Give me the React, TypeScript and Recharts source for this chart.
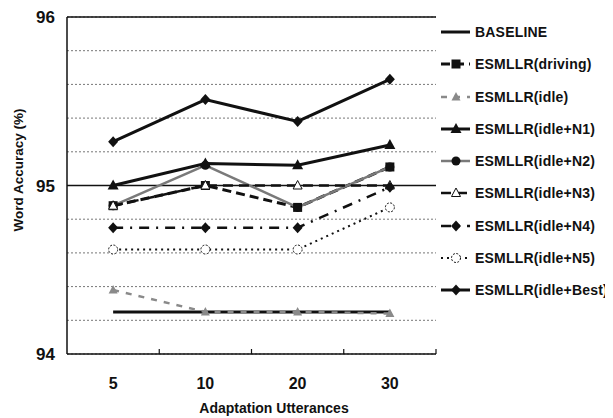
import React from "react"
import { LineChart, Line, XAxis, YAxis, CartesianGrid, Legend, ReferenceLine } from "recharts"

const categories = ["5", "10", "20", "30"]
const baseline = [94.25, 94.25, 94.25, 94.25]
const driving = [94.88, 95.0, 94.87, 95.11]
const idle = [94.38, 94.25, 94.25, 94.24]
const idleN1 = [95.0, 95.13, 95.12, 95.24]
const idleN2 = [94.88, 95.12, 94.87, 95.11]
const idleN3 = [94.88, 95.0, 95.0, 95.0]
const idleN4 = [94.75, 94.75, 94.75, 94.99]
const idleN5 = [94.62, 94.62, 94.62, 94.87]
const idleBest = [95.26, 95.51, 95.38, 95.63]
const yTicks = [94, 94.2, 94.4, 94.6, 94.8, 95, 95.2, 95.4, 95.6, 95.8, 96]

const FONT = "'Liberation Sans', Arial, sans-serif"
const INK = "#111"

type Marker = "none" | "square" | "triangle" | "grayTri" | "circle" | "openTri" | "diamond" | "openCircle"

interface Series {
  key: string
  name: string
  values: number[]
  stroke: string
  width: number
  dash?: string
  marker: Marker
}

const series: Series[] = [
  { key: "baseline", name: "BASELINE", values: baseline, stroke: INK, width: 3, marker: "none" },
  { key: "driving", name: "ESMLLR(driving)", values: driving, stroke: INK, width: 3, dash: "9 5", marker: "square" },
  { key: "idle", name: "ESMLLR(idle)", values: idle, stroke: "#8a8a8a", width: 2.5, dash: "6 7", marker: "grayTri" },
  { key: "n1", name: "ESMLLR(idle+N1)", values: idleN1, stroke: INK, width: 3, marker: "triangle" },
  { key: "n2", name: "ESMLLR(idle+N2)", values: idleN2, stroke: "#7a7a7a", width: 2.5, marker: "circle" },
  { key: "n3", name: "ESMLLR(idle+N3)", values: idleN3, stroke: INK, width: 2.5, dash: "10 6", marker: "openTri" },
  { key: "n4", name: "ESMLLR(idle+N4)", values: idleN4, stroke: INK, width: 2.5, dash: "10 7 2 7", marker: "diamond" },
  { key: "n5", name: "ESMLLR(idle+N5)", values: idleN5, stroke: INK, width: 2, dash: "2 4", marker: "openCircle" },
  { key: "best", name: "ESMLLR(idle+Best)", values: idleBest, stroke: INK, width: 3, marker: "diamond" },
]

const data = categories.map((c, i) => {
  const row: Record<string, string | number> = { x: c }
  series.forEach((s) => (row[s.key] = s.values[i]))
  return row
})

function drawMarker(m: Marker, cx: number, cy: number, key?: string) {
  switch (m) {
    case "square":
      return <rect key={key} x={cx - 4.5} y={cy - 4.5} width={9} height={9} fill={INK} />
    case "triangle":
      return <polygon key={key} points={`${cx},${cy - 6} ${cx + 5.5},${cy + 4} ${cx - 5.5},${cy + 4}`} fill={INK} />
    case "grayTri":
      return <polygon key={key} points={`${cx},${cy - 5} ${cx + 4.5},${cy + 3.5} ${cx - 4.5},${cy + 3.5}`} fill="#8a8a8a" />
    case "openTri":
      return <polygon key={key} points={`${cx},${cy - 5} ${cx + 4.5},${cy + 3.5} ${cx - 4.5},${cy + 3.5}`} fill="#fff" stroke={INK} strokeWidth={1} />
    case "circle":
      return <circle key={key} cx={cx} cy={cy} r={4.5} fill={INK} />
    case "openCircle":
      return <circle key={key} cx={cx} cy={cy} r={4.5} fill="#fff" stroke={INK} strokeWidth={1} strokeDasharray="2 1.5" />
    case "diamond":
      return <polygon key={key} points={`${cx},${cy - 5.5} ${cx + 5},${cy} ${cx},${cy + 5.5} ${cx - 5},${cy}`} fill={INK} />
    default:
      return <g key={key} />
  }
}

const BAND = 369 / 4

function XTick(props: any) {
  const { x, y, payload } = props
  return (
    <g>
      <text x={x} y={y + 35} textAnchor="middle" fontFamily={FONT} fontWeight="bold" fontSize={16} fill={INK}>
        {payload.value}
      </text>
      <line x1={x + BAND / 2} y1={y} x2={x + BAND / 2} y2={y - 5} stroke={INK} strokeWidth={1.2} />
    </g>
  )
}

function LegendBox() {
  return (
    <div style={{ fontFamily: FONT, fontWeight: "bold", fontSize: 14, letterSpacing: 0.2, color: INK }}>
      {series.map((s) => (
        <div key={s.key} style={{ height: 32.25, display: "flex", alignItems: "center" }}>
          <svg width={31} height={16} style={{ marginRight: 3 }}>
            <line x1={0} y1={8} x2={29} y2={8} stroke={s.stroke} strokeWidth={s.width} strokeDasharray={s.dash} />
            {drawMarker(s.marker, 15, 8)}
          </svg>
          <span style={{ whiteSpace: "nowrap" }}>{s.name}</span>
        </div>
      ))}
    </div>
  )
}

export default function App() {
  return (
    <LineChart width={605} height={410} data={data} margin={{ top: 9, right: 5, left: 0, bottom: 2 }}>
      <CartesianGrid vertical={false} stroke="#777" strokeDasharray="2 2" />
      <ReferenceLine y={95} stroke={INK} strokeWidth={1.5} />
      <ReferenceLine y={96} stroke={INK} strokeWidth={1.5} />
      <XAxis
        dataKey="x"
        height={62}
        padding={{ left: BAND / 2, right: BAND / 2 }}
        axisLine={{ stroke: INK, strokeWidth: 1.5 }}
        tickLine={false}
        tickSize={0}
        tickMargin={0}
        tick={<XTick />}
        label={() => (
          <text x={266} y={405} textAnchor="middle" fontFamily={FONT} fontWeight="bold" fontSize={14} fill={INK}>
            Adaptation Utterances
          </text>
        )}
      />
      <YAxis
        type="number"
        domain={[94, 96]}
        ticks={yTicks}
        interval={0}
        width={59}
        axisLine={{ stroke: INK, strokeWidth: 1.5 }}
        tickLine={false}
        tickSize={4}
        tickMargin={8}
        tickFormatter={(v: number) => (Number.isInteger(v) ? String(v) : "")}
        tick={{ fontFamily: FONT, fontWeight: "bold", fontSize: 17, fill: INK }}
        label={() => (
          <text
            x={10}
            y={162}
            transform="rotate(-90 10 162)"
            textAnchor="middle"
            dominantBaseline="central"
            fontFamily={FONT}
            fontWeight="bold"
            fontSize={13.5}
            fill={INK}
          >
            Word Accuracy (%)
          </text>
        )}
      />
      <Legend
        layout="vertical"
        verticalAlign="top"
        align="right"
        content={<LegendBox />}
        wrapperStyle={{ left: 433, top: 8, width: 172 }}
      />
      {series.map((s) => (
        <Line
          key={s.key}
          type="linear"
          dataKey={s.key}
          name={s.name}
          stroke={s.stroke}
          strokeWidth={s.width}
          strokeDasharray={s.dash}
          dot={(p: any) => drawMarker(s.marker, p.cx, p.cy, `${s.key}-${p.index}`)}
          activeDot={false}
          isAnimationActive={false}
        />
      ))}
    </LineChart>
  )
}
